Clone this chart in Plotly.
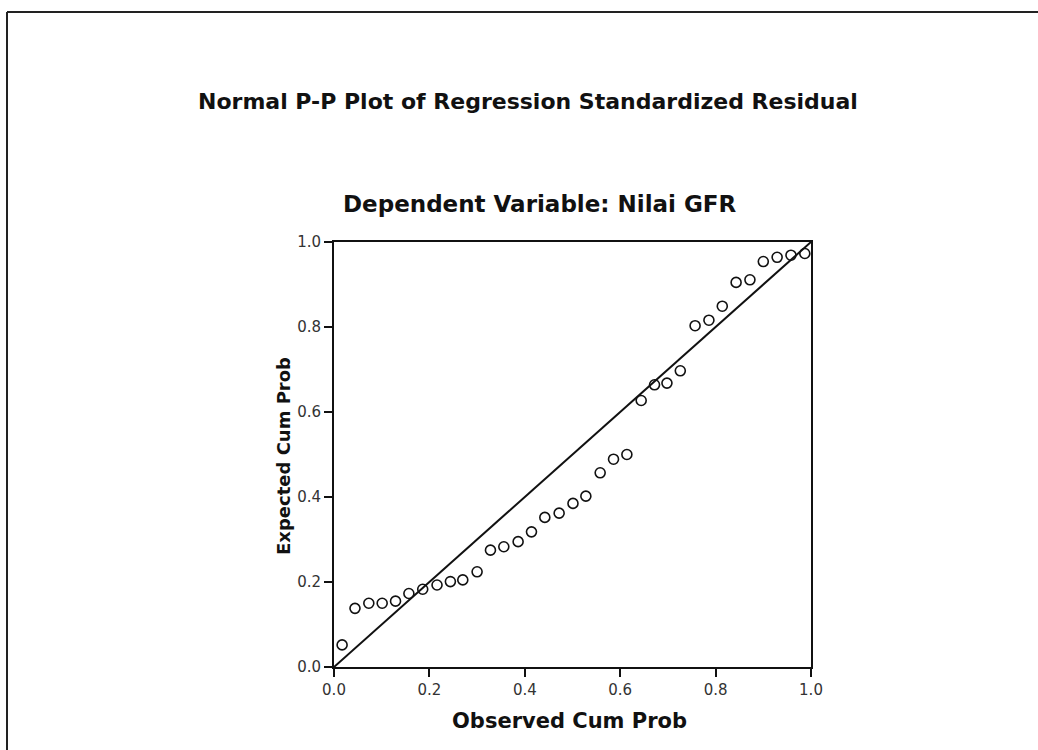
import plotly.graph_objects as go

# Observed cumulative probability (x) and expected cumulative probability (y)
observed_cum_prob = [0.017, 0.044, 0.073, 0.101, 0.129, 0.157, 0.186, 0.216, 0.244, 0.270,
                     0.300, 0.328, 0.356, 0.386, 0.414, 0.442, 0.472, 0.501, 0.528, 0.558,
                     0.586, 0.614, 0.644, 0.672, 0.698, 0.726, 0.757, 0.786, 0.814, 0.843,
                     0.872, 0.900, 0.929, 0.958, 0.987]
expected_cum_prob = [0.052, 0.138, 0.150, 0.150, 0.155, 0.173, 0.183, 0.193, 0.201, 0.205,
                     0.224, 0.275, 0.283, 0.295, 0.318, 0.352, 0.362, 0.385, 0.402, 0.457,
                     0.489, 0.500, 0.627, 0.664, 0.668, 0.697, 0.803, 0.816, 0.849, 0.905,
                     0.911, 0.954, 0.964, 0.969, 0.973]
ref_line_x = [0.0, 1.0]
ref_line_y = [0.0, 1.0]
tick_vals = [0.0, 0.2, 0.4, 0.6, 0.8, 1.0]
tick_text = ["0.0", "0.2", "0.4", "0.6", "0.8", "1.0"]

title_text = "Normal P-P Plot of Regression Standardized Residual"
subtitle_text = "Dependent Variable: Nilai GFR"
x_title = "Observed Cum Prob"
y_title = "Expected Cum Prob"

W, H = 1038, 750
L, R, T, B = 334, 1038 - 811, 242, 750 - 667
pw, ph = W - L - R, H - T - B

def px_to_paper_x(px):
    return (px - L) / pw

def px_to_paper_y(py):
    return (H - B - py) / ph

FONT = "DejaVu Sans, Verdana, sans-serif"

fig = go.Figure()
fig.add_trace(go.Scatter(x=ref_line_x, y=ref_line_y, mode="lines",
                         line=dict(color="#111111", width=2), hoverinfo="skip",
                         showlegend=False, cliponaxis=False))
fig.add_trace(go.Scatter(x=observed_cum_prob, y=expected_cum_prob, mode="markers",
                         marker=dict(symbol="circle-open", size=10, color="#111111",
                                     line=dict(width=1.6, color="#111111")),
                         showlegend=False, cliponaxis=False))

axis_common = dict(range=[0, 1], tickvals=tick_vals, ticktext=tick_text,
                   showgrid=False, zeroline=False, showline=True, mirror=True,
                   linecolor="#111111", linewidth=2, ticks="outside", ticklen=8,
                   tickwidth=1.5, tickcolor="#111111",
                   tickfont=dict(family=FONT, size=15, color="#333333"))

fig.update_layout(
    width=W, height=H,
    margin=dict(l=L, r=R, t=T, b=B, autoexpand=False),
    paper_bgcolor="white", plot_bgcolor="white",
    xaxis=dict(**axis_common),
    yaxis=dict(**axis_common, ticklabelstandoff=0),
    annotations=[
        dict(text="<b>%s</b>" % title_text, x=px_to_paper_x(528), y=px_to_paper_y(101),
             xref="paper", yref="paper", showarrow=False, xanchor="center", yanchor="middle",
             font=dict(family=FONT, size=22, color="#111111")),
        dict(text="<b>%s</b>" % subtitle_text, x=px_to_paper_x(540), y=px_to_paper_y(204),
             xref="paper", yref="paper", showarrow=False, xanchor="center", yanchor="middle",
             font=dict(family=FONT, size=23, color="#111111")),
        dict(text="<b>%s</b>" % x_title, x=px_to_paper_x(569), y=px_to_paper_y(721),
             xref="paper", yref="paper", showarrow=False, xanchor="center", yanchor="middle",
             font=dict(family=FONT, size=21, color="#111111")),
        dict(text="<b>%s</b>" % y_title, x=px_to_paper_x(283), y=px_to_paper_y(456),
             xref="paper", yref="paper", showarrow=False, xanchor="center", yanchor="middle",
             textangle=-90, font=dict(family=FONT, size=18, color="#111111")),
    ],
    shapes=[
        dict(type="line", xref="paper", yref="paper",
             x0=px_to_paper_x(7), x1=px_to_paper_x(1040),
             y0=px_to_paper_y(12), y1=px_to_paper_y(12),
             line=dict(color="#222222", width=2)),
        dict(type="line", xref="paper", yref="paper",
             x0=px_to_paper_x(7), x1=px_to_paper_x(7),
             y0=px_to_paper_y(12), y1=px_to_paper_y(752),
             line=dict(color="#222222", width=2)),
    ],
)

fig.write_html("out.html")
